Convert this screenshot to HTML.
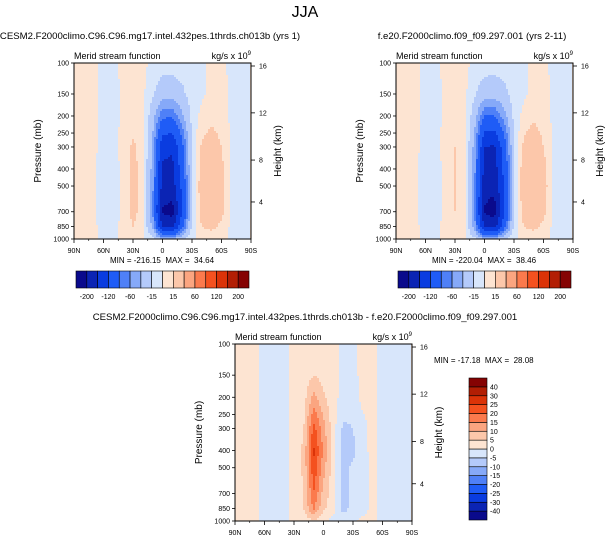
<!DOCTYPE html>
<html><head><meta charset="utf-8"><style>
body{margin:0;background:#fff;}
svg{display:block;font-family:"Liberation Sans",sans-serif;}
text{white-space:pre;}
</style></head><body>
<svg id="c" width="609" height="542" viewBox="0 0 609 542" xmlns="http://www.w3.org/2000/svg">
<text x="305" y="17" font-size="16" text-anchor="middle">JJA</text>
</svg>
<script>
const lats=[90,80,70,60,50,40,30,20,10,0,-10,-20,-30,-40,-50,-60,-70,-80,-90];
const pres=[100,150,200,300,400,500,700,850,1000];
const fieldA=[
[0,3,3,-3,-3,3,3,3,-3,-5,-5,-5,-3,-3,3,3,-3,-3,0],
[0,3,3,-5,-5,3,3,3,-12,-30,-30,-20,-5,-3,5,5,-3,-3,0],
[0,3,3,-5,-5,3,5,8,-30,-75,-75,-45,-10,5,10,8,-3,-3,0],
[0,3,3,-5,-5,5,18,10,-45,-150,-155,-90,-12,18,25,15,-3,-3,0],
[0,3,3,-8,-8,5,20,8,-50,-165,-170,-100,-15,25,35,20,-3,-3,0],
[0,3,3,-10,-10,5,20,8,-55,-175,-180,-110,-15,28,40,22,-3,-3,0],
[0,3,3,-10,-10,5,20,8,-60,-205,-215,-120,-15,25,38,20,-3,-3,0],
[0,3,3,-5,-5,5,15,5,-45,-160,-170,-90,-10,15,20,10,-3,-3,0],
[0,2,2,-2,-2,2,5,2,-10,-40,-40,-20,-2,5,5,2,-2,-2,0]];
const fieldB=[
[0,3,3,-3,-3,3,3,3,-3,-5,-5,-5,-3,-3,3,3,-3,-3,0],
[0,3,3,-5,-5,3,3,3,-12,-28,-30,-22,-5,-3,5,5,-3,-3,0],
[0,3,3,-5,-5,3,5,8,-30,-80,-80,-50,-10,5,12,8,-3,-3,0],
[0,3,3,-5,-5,5,15,8,-50,-160,-165,-100,-15,20,28,15,-3,-3,0],
[0,3,3,-8,-8,5,15,5,-55,-175,-180,-110,-15,28,38,22,-3,-3,0],
[0,3,3,-10,-10,5,15,5,-60,-185,-190,-115,-15,30,40,25,-3,-3,0],
[0,3,3,-10,-10,5,15,5,-65,-205,-218,-125,-15,25,38,20,-3,-3,0],
[0,3,3,-5,-5,5,12,3,-50,-165,-175,-95,-10,15,20,10,-3,-3,0],
[0,2,2,-2,-2,2,5,2,-10,-40,-40,-20,-2,5,5,2,-2,-2,0]];
const fieldD=[
[0,2,2,-2,-2,-2,2,2,2,2,2,-2,-2,2,2,-2,-2,-2,0],
[0,2,2,-2,-2,-2,2,2,5,3,2,-2,-2,2,2,-2,-2,-2,0],
[0,2,2,-2,-2,-2,2,3,12,6,2,-2,-3,2,2,-2,-2,-2,0],
[0,2,2,-2,-2,-2,2,5,22,12,2,-6,-5,-2,2,-2,-2,-2,0],
[0,2,2,-2,-2,-2,2,6,26,14,2,-7,-6,-2,2,-2,-2,-2,0],
[0,2,2,-2,-2,-2,2,6,24,12,2,-7,-4,-5,2,-2,-2,-2,0],
[0,2,2,-2,-2,-2,2,5,20,8,2,-7,-3,-4,2,-2,-2,-2,0],
[0,2,2,-2,-2,-2,2,5,16,6,2,-7,-3,-3,2,-2,-2,-2,0],
[0,2,2,-2,-2,-2,2,2,4,2,-2,-2,-2,2,2,-2,-2,-2,0]];
const levelsAB=[-200,-160,-120,-80,-60,-40,-15,0,15,40,60,80,120,160,200];
const labelsAB=["-200","-120","-60","-15","15","60","120","200"];
const levelsD=[-40,-30,-25,-20,-15,-10,-5,0,5,10,15,20,25,30,40];
const colors=["#0a0a8c","#0b24b4","#0a3ce0","#1f5cf6","#4f80f7","#86a9f8","#b4cafa","#d8e6fb","#fde4d2","#fcc7aa","#fba580","#fb7a4d","#f4511f","#db3308","#b21e04","#850303"];
const pTicks=[100,150,200,250,300,400,500,700,850,1000];
const latTicks=[90,60,30,0,-30,-60,-90];
const kmTicks=[[4,616],[8,356],[12,192],[16,104]];
const NS="http://www.w3.org/2000/svg";
const svg=document.getElementById('c');
function mk(t,a,p){const e=document.createElementNS(NS,t);for(const k in a)e.setAttribute(k,a[k]);(p||svg).appendChild(e);return e;}
function latLbl(l){return l==0?"0":(Math.abs(l)+(l>0?"N":"S"));}
function interp(f,la,p){
  let i=(90-la)/10; let i0=Math.max(0,Math.min(17,Math.floor(i))); let fi=i-i0;
  let lp=Math.log(p); let j0=0;
  for(let j=0;j<pres.length-1;j++){if(p>=pres[j])j0=j;}
  let fj=(lp-Math.log(pres[j0]))/(Math.log(pres[j0+1])-Math.log(pres[j0]));
  fj=Math.max(0,Math.min(1,fj));
  const a=f[j0][i0],b=f[j0][i0+1],c=f[j0+1][i0],d=f[j0+1][i0+1];
  return a*(1-fi)*(1-fj)+b*fi*(1-fj)+c*(1-fi)*fj+d*fi*fj;
}
function colorOf(v,lev){let k=0;while(k<lev.length&&v>=lev[k])k++;return colors[k];}
function panel(name,x0,y0,w,h,field,lev,title,tx){
  const g=mk('g',{});  
  const X=la=>x0+(90-la)/180*w;
  const Y=p=>y0+(Math.log10(p)-2)*h;
  const cw=2,ch=2;
  const cells=mk('g',{'shape-rendering':'crispEdges'},g);
  
  
  for(let yy=0;yy<h;yy+=ch){
    const p=Math.pow(10,2+(yy+ch/2)/h);
    for(let xx=0;xx<w;xx+=cw){
      const la=90-(xx+cw/2)/w*180;
      const v=interp(field,la,p);
      mk('rect',{x:x0+xx,y:y0+yy,width:Math.min(cw,w-xx)+0.3,height:Math.min(ch,h-yy)+0.3,fill:colorOf(v,lev)},cells);
    }
  }
  mk('rect',{x:x0,y:y0,width:w,height:h,fill:'none',stroke:'#000','stroke-width':1},g);
  pTicks.forEach(p=>{const y=Y(p);
    mk('line',{x1:x0,x2:x0-3,y1:y,y2:y,stroke:'#000','stroke-width':0.8},g);
    const t=mk('text',{x:x0-5,y:y+2.5,'font-size':7,'text-anchor':'end'},g);t.textContent=p;
    });
  latTicks.forEach(l=>{const x=X(l);
    mk('line',{x1:x,x2:x,y1:y0+h,y2:y0+h+4,stroke:'#000','stroke-width':0.8},g);
    const t=mk('text',{x:x,y:y0+h+14,'font-size':7,'text-anchor':'middle'},g);t.textContent=latLbl(l);
    });
  for(let l=75;l>-90;l-=15){if(l%30==0)continue;const x=X(l);mk('line',{x1:x,x2:x,y1:y0+h,y2:y0+h+2,stroke:'#000','stroke-width':0.6},g);}
  kmTicks.forEach(k=>{const y=Y(k[1]);
    mk('line',{x1:x0+w,x2:x0+w+4,y1:y,y2:y,stroke:'#000','stroke-width':0.8},g);
    const t=mk('text',{x:x0+w+8,y:y+2.5,'font-size':7},g);t.textContent=k[0];
    });
  let t=mk('text',{transform:`translate(${x0-33},${y0+h/2}) rotate(-90)`,'font-size':10,'text-anchor':'middle'},g);t.textContent='Pressure (mb)';
  
  t=mk('text',{transform:`translate(${x0+w+30},${y0+h/2}) rotate(-90)`,'font-size':10,'text-anchor':'middle'},g);t.textContent='Height (km)';
  
  t=mk('text',{x:x0,y:y0-4,'font-size':9},g);t.textContent='Merid stream function';
  
  t=mk('text',{x:x0+w,y:y0-4,'font-size':9,'text-anchor':'end'},g);t.innerHTML='kg/s x 10<tspan font-size="6" dy="-4">9</tspan>';
  
  t=mk('text',{x:tx,y:y0-24,'font-size':9.6,'text-anchor':'middle'},g);t.textContent=title;
  
  return {X,Y};
}
function hbar(name,x0,y0,w,h,lev,labels){
  const g=mk('g',{});
  const bw=w/16;
  colors.forEach((c,i)=>{const r=mk('rect',{x:x0+i*bw,y:y0,width:bw,height:h,fill:c,stroke:'#000','stroke-width':0.6},g);
    });
  labels.forEach((s,i)=>{const t=mk('text',{x:x0+(1+2*i)*bw,y:y0+h+11,'font-size':7,'text-anchor':'middle'},g);t.textContent=s;
    });
}
function vbar(name,x0,y0,w,h,lev){
  const g=mk('g',{});
  const bh=h/16;
  colors.forEach((c,i)=>{const r=mk('rect',{x:x0,y:y0+(15-i)*bh,width:w,height:bh,fill:c,stroke:'#000','stroke-width':0.6},g);
    });
  lev.forEach((v,i)=>{const t=mk('text',{x:x0+w+3,y:y0+(15-i)*bh+2.5,'font-size':7},g);t.textContent=v;
    });
}
function txt(name,x,y,s,fs,anchor){const t=mk('text',{x:x,y:y,'font-size':fs,'text-anchor':anchor||'middle'});t.textContent=s;
  }
panel('panel-test',74,63,177,176,fieldA,levelsAB,'CESM2.F2000climo.C96.C96.mg17.intel.432pes.1thrds.ch013b (yrs 1)',150);
txt('minmax-test',162,263,'MIN = -216.15  MAX =  34.64',8);
hbar('colorbar-test',76,271,173,17,levelsAB,labelsAB);
panel('panel-control',396,63,177,176,fieldB,levelsAB,'f.e20.F2000climo.f09_f09.297.001 (yrs 2-11)',472);
txt('minmax-control',484,263,'MIN = -220.04  MAX =  38.46',8);
hbar('colorbar-control',398,271,173,17,levelsAB,labelsAB);
panel('panel-diff',235,344,177,177,fieldD,levelsD,'CESM2.F2000climo.C96.C96.mg17.intel.432pes.1thrds.ch013b - f.e20.F2000climo.f09_f09.297.001',305);
txt('minmax-diff',434,363,'MIN = -17.18  MAX =  28.08',8,'start');
vbar('colorbar-diff',469,378,18,142,levelsD);
</script>
</body></html>
